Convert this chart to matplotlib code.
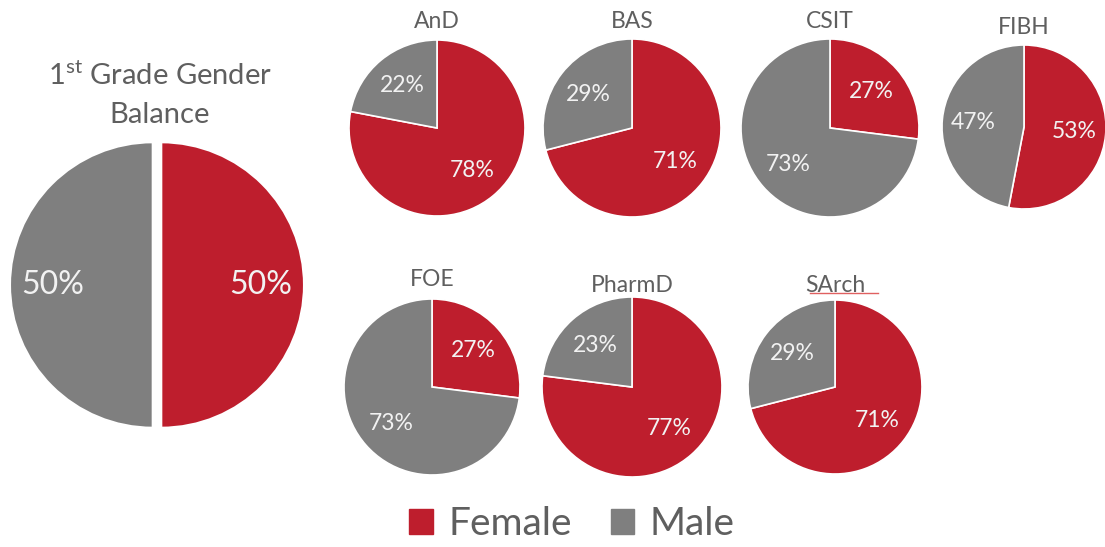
import matplotlib.pyplot as plt
from matplotlib.patches import Patch
from matplotlib.lines import Line2D

plt.rcParams['font.family'] = ['Lato', 'DejaVu Sans']
plt.rcParams['mathtext.fontset'] = 'custom'
plt.rcParams['mathtext.rm'] = 'Lato'

# data
schools = ['AnD', 'BAS', 'CSIT', 'FIBH', 'FOE', 'PharmD', 'SArch']
female = [78, 71, 27, 53, 27, 77, 71]
male = [22, 29, 73, 47, 73, 23, 29]
overall_female = 50
overall_male = 50

RED = '#BE1E2D'
GREY = '#7F7F7F'
TXT = '#5F5F5F'

W, H = 1105, 547
fig = plt.figure(figsize=(W / 100, H / 100), dpi=100)

def pct(p):
    return '%.0f%%' % p

def pie_ax(cx, cy, r):
    # pixel center / radius -> figure axes
    return fig.add_axes([(cx - r) / W, (H - cy - r) / H, 2 * r / W, 2 * r / H])

# big pie
ax = pie_ax(157, 285, 147)
ax.pie([overall_female, overall_male], colors=[RED, GREY], startangle=90,
       counterclock=False, explode=[0.03, 0.03],
       autopct=pct, pctdistance=0.7,
       wedgeprops=dict(edgecolor='white', linewidth=1.5),
       textprops=dict(color='#F2F2F2', fontsize=23))
ax.set_xlim(-1.03, 1.03)
ax.set_ylim(-1.03, 1.03)
fig.text(160 / W, 1 - 75 / H, r'1$^{\mathrm{st}}$ Grade Gender', ha='center', va='center',
         fontsize=21, color=TXT)
fig.text(160 / W, 1 - 115 / H, 'Balance', ha='center', va='center', fontsize=21, color=TXT)

# small pies
centers = [(437, 128), (632, 128), (830, 128), (1024, 127), (432, 387), (632, 387), (835, 387)]
radii = [88, 89, 89, 82, 88, 90, 87]
title_y = [22, 22, 22, 28, 280, 285, 285]

for i, s in enumerate(schools):
    cx, cy = centers[i]
    r = radii[i]
    ax = pie_ax(cx, cy, r)
    ax.pie([female[i], male[i]], colors=[RED, GREY], startangle=90, counterclock=False,
           autopct=pct, pctdistance=0.62,
           wedgeprops=dict(edgecolor='white', linewidth=1.2),
           textprops=dict(color='#F2F2F2', fontsize=16.5))
    ax.set_xlim(-1, 1)
    ax.set_ylim(-1, 1)
    fig.text(cx / W, 1 - title_y[i] / H, s, ha='center', va='center', fontsize=16.5, color=TXT)

# spell-check underline under SArch
fig.add_artist(Line2D([810 / W, 878 / W], [1 - 293 / H, 1 - 293 / H], color='#E06060', lw=1))

handles = [Patch(color=RED, label='Female'), Patch(color=GREY, label='Male')]
fig.legend(handles=handles, loc='center', bbox_to_anchor=(572 / W, 1 - 524 / H), ncol=2,
           frameon=False, fontsize=28, handlelength=0.6, handleheight=0.6,
           handletextpad=0.4, columnspacing=1.0, labelcolor=TXT)

fig.savefig('out.png', dpi=100)
